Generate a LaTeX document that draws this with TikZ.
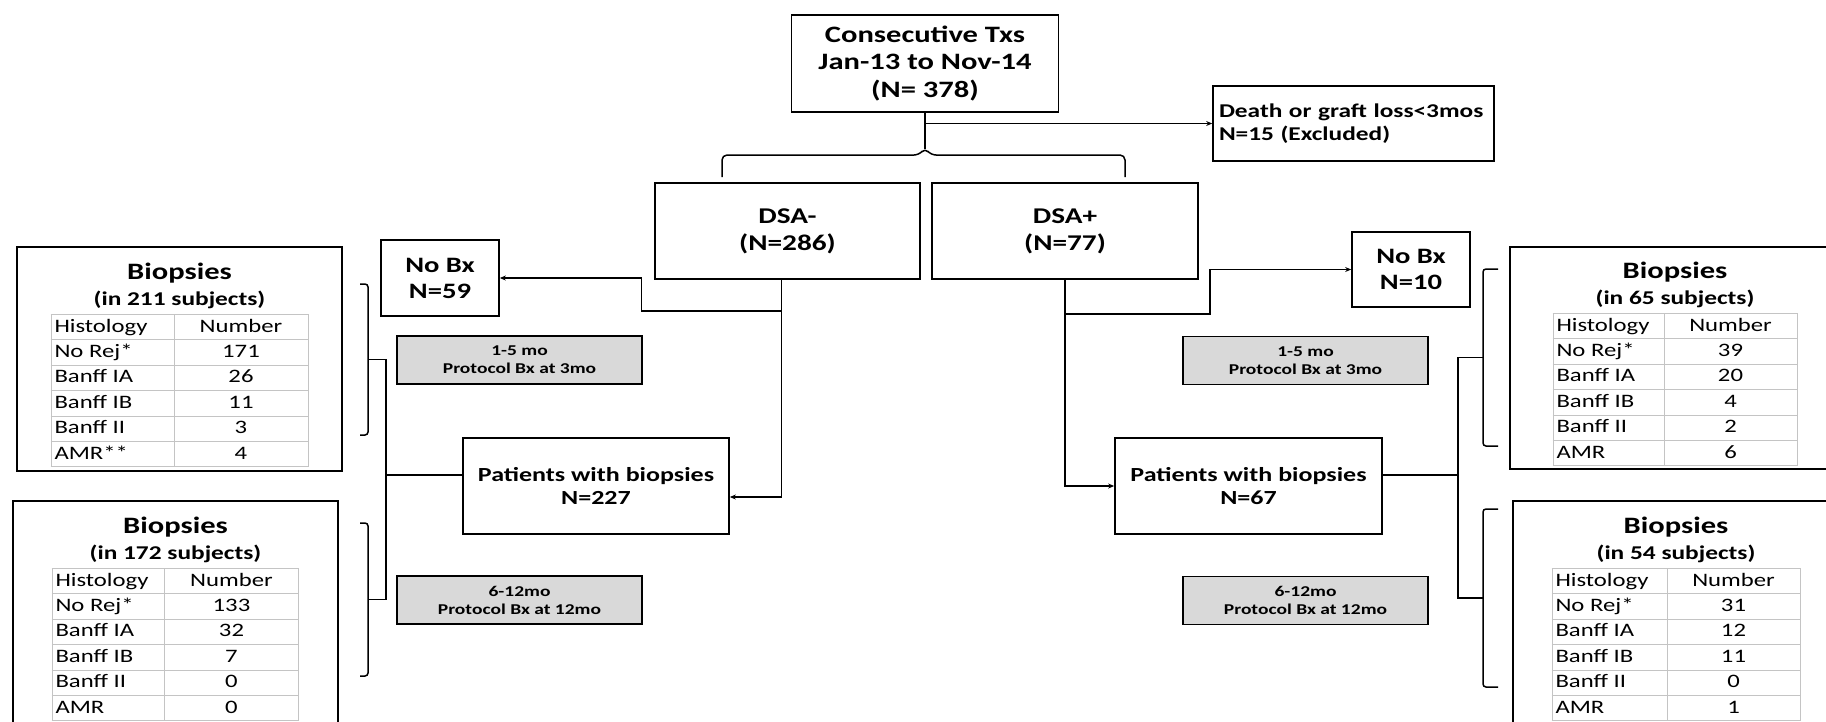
\documentclass[tikz,border=0pt]{standalone}
\usepackage{fontspec}
\setmainfont{Carlito}[FakeStretch=1.3]
\usepackage{array}
\usepackage{colortbl}
\usetikzlibrary{arrows.meta,positioning,calc}
\definecolor{boxgray}{HTML}{D9D9D9}
\definecolor{rulegray}{HTML}{C4C4C4}
\newcommand{\bxtab}[9]{%
 {\rule{0pt}{29pt}\fontsize{23.5}{26}\selectfont\bfseries Biopsies}\\
 {\fontsize{19.5}{26}\selectfont\bfseries (in #1 subjects)}\\[4pt]
 {\fontsize{19}{24.4}\selectfont\setlength{\tabcolsep}{3pt}\setlength{\arrayrulewidth}{1pt}\arrayrulecolor{rulegray}%
 \begin{tabular}{|p{#2}|>{\centering\arraybackslash}p{#3}|}\hline
 Histology & Number\\\hline
 No Rej* & #4\\\hline
 Banff IA & #5\\\hline
 Banff IB & #6\\\hline
 Banff II & #7\\\hline
 #8 & #9\\\hline
 \end{tabular}}}

\begin{document}
\begin{tikzpicture}[x=1pt, y=-1pt, >={Stealth[length=6pt,width=5pt]}, line width=1.5pt,
 box/.style={draw, line width=1.7pt, inner sep=0pt, align=center},
 greybox/.style={draw, fill=boxgray, line width=1.2pt, inner sep=0pt, align=center,
  minimum width=245pt, minimum height=48pt, font=\fontsize{15}{18}\selectfont\bfseries},
 bxbox/.style={draw, line width=1.7pt, inner sep=0pt, align=center, minimum height=224pt,
  font=\fontsize{19.5}{26}\selectfont}]
 \useasboundingbox (0,0) rectangle (1826,721);
 \node[box, minimum width=267pt, minimum height=97pt, font=\fontsize{23.5}{27.7}\selectfont\bfseries] (txs) at (925, 63.5) {Consecutive Txs\\Jan-13 to Nov-14\\(N= 378)};
 \node[box, align=left, text width=269pt, inner xsep=6pt, minimum height=75pt, font=\fontsize{19.5}{23}\selectfont\bfseries] (death) at (1353.5, 123.5) {Death or graft loss<3mos\\N=15 (Excluded)};
 \node[box, minimum width=265pt, minimum height=96pt, font=\fontsize{22.5}{26.7}\selectfont\bfseries] (dsaN) at (787.5, 231) {DSA-\\(N=286)};
 \node[box, minimum width=266pt, minimum height=96pt, font=\fontsize{22.5}{26.7}\selectfont\bfseries] (dsaP) at (1065, 231) {DSA+\\(N=77)};
 \node[box, minimum width=118pt, minimum height=76pt, font=\fontsize{22}{26}\selectfont\bfseries] (noBxL) at (440, 278) {No Bx\\N=59};
 \node[box, minimum width=118pt, minimum height=75pt, font=\fontsize{22}{26}\selectfont\bfseries] (noBxR) at (1411, 269.5) {No Bx\\N=10};
 \node[box, minimum width=266pt, minimum height=96pt, font=\fontsize{20}{22.5}\selectfont\bfseries] (patL) at (596, 486) {Patients with biopsies\\N=227};
 \node[box, minimum width=267pt, minimum height=96pt, font=\fontsize{20}{22.5}\selectfont\bfseries] (patR) at (1248.5, 486) {Patients with biopsies\\N=67};
 \node[greybox] (protL1) at (519.5, 360) {1-5 mo\\Protocol Bx at 3mo};
 \node[greybox] (protL2) at (519.5, 600) {6-12mo\\Protocol Bx at 12mo};
 \node[greybox] (protR1) at (1305.5, 360.5) {1-5 mo\\Protocol Bx at 3mo};
 \node[greybox] (protR2) at (1305.5, 600.5) {6-12mo\\Protocol Bx at 12mo};
 \node[bxbox, minimum width=325pt] (bxL1) at (179.5, 359) {\bxtab{211}{116pt}{127pt}{171}{26}{11}{3}{AMR**}{4}};
 \node[bxbox, minimum width=325pt] (bxL2) at (175.5, 613) {\bxtab{172}{105pt}{128pt}{133}{32}{7}{0}{AMR}{0}};
 \node[bxbox, minimum width=330pt, minimum height=222pt] (bxR1) at (1675, 358) {\bxtab{65}{104pt}{126pt}{39}{20}{4}{2}{AMR}{6}};
 \node[bxbox, minimum width=326pt] (bxR2) at (1676, 613) {\bxtab{54}{108pt}{126pt}{31}{12}{11}{0}{AMR}{1}};
 % split under the first box
 \draw (txs.south) -- ++(0,36);
 \draw[rounded corners=5pt] (722,177) -- (722,155) -- (919,155) -- (925,148) -- (931,155) -- (1125,155) -- (1125,177);
 \draw[->] (txs.south |- death.west) -- (death.west);
 % DSA- branch
 \coordinate (dsaNout) at ($(dsaN.south)+(-6,0)$);
 \draw[->] (dsaNout) |- ++(-140,31) |- (noBxL.east);
 \draw[->] (dsaNout) |- ($(patL.east)+(0,11)$);
 \coordinate (patLout) at ($(patL.west)+(0,-11)$);
 \coordinate (spineL) at (386,0);
 \coordinate (brL1) at (368,359.5);
 \coordinate (brL2) at (368,599.5);
 \draw[rounded corners=3pt] (360,284) -- (368,284) -- (368,435) -- (360,435);
 \draw[rounded corners=3pt] (360,523) -- (368,523) -- (368,676) -- (360,676);
 \draw (brL1) -| (spineL |- brL2) -- (brL2);
 \draw (patLout) -- (spineL |- patLout);
 % DSA+ branch
 \draw[->] (dsaP.south) |- ++(145,34) |- (noBxR.west);
 \draw[->] (dsaP.south) |- (patR.west);
 \coordinate (patRout) at ($(patR.east)+(0,-11)$);
 \coordinate (spineR) at (1458,0);
 \coordinate (brR1) at (1483,357.5);
 \coordinate (brR2) at (1483,598);
 \draw[rounded corners=3pt] (1498,269) -- (1483,269) -- (1483,446) -- (1498,446);
 \draw[rounded corners=3pt] (1498,509) -- (1483,509) -- (1483,687) -- (1498,687);
 \draw (brR1) -| (spineR |- brR2) -- (brR2);
 \draw (patRout) -- (spineR |- patRout);
\end{tikzpicture}
\end{document}
